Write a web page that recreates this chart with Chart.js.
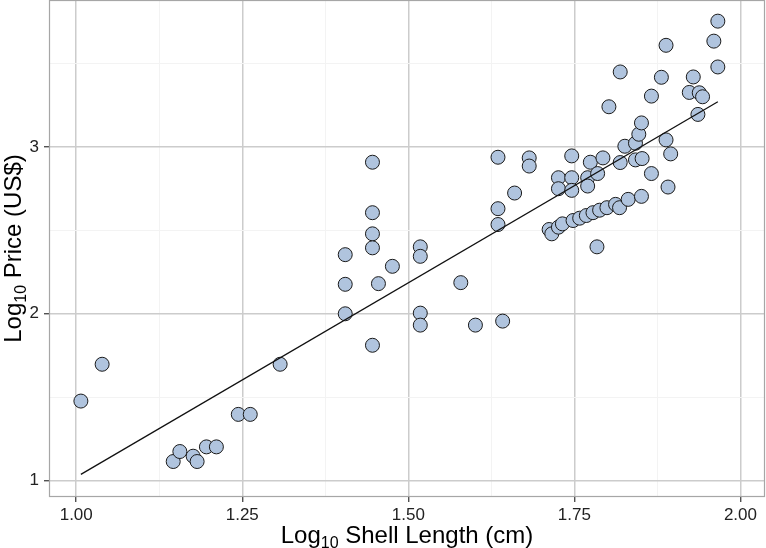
<!DOCTYPE html>
<html>
<head>
<meta charset="utf-8">
<script src="https://cdn.jsdelivr.net/npm/chart.js@4.4.1/dist/chart.umd.min.js"></script>
<style>
  html, body { margin: 0; padding: 0; background: #fff; }
  canvas { display: block; }
</style>
</head>
<body>
<canvas id="chart" width="766" height="548"></canvas>
<script>
// Datos (log10 longitud de concha, log10 precio)
const shellLength = [
  1.007, 1.039, 1.146, 1.156, 1.176, 1.182, 1.196, 1.211, 1.244, 1.262, 1.307,
  1.405, 1.405, 1.405, 1.446, 1.446, 1.446, 1.446, 1.446, 1.455, 1.476,
  1.518, 1.518, 1.518, 1.518, 1.579, 1.601, 1.642, 1.635, 1.635, 1.635, 1.660, 1.682, 1.682,
  1.726, 1.726, 1.746, 1.746, 1.746, 1.770, 1.770, 1.774, 1.785, 1.793, 1.802, 1.819, 1.819,
  1.826, 1.842, 1.842, 1.847, 1.851, 1.852, 1.866, 1.866, 1.881, 1.888, 1.888, 1.891, 1.895,
  1.923, 1.929, 1.936, 1.938, 1.943, 1.960, 1.966, 1.966, 1.784,
  1.712, 1.716, 1.726, 1.732, 1.748, 1.758, 1.768, 1.778, 1.788, 1.799, 1.812, 1.818, 1.831, 1.851
];
const price = [
  1.476, 1.697, 1.113, 1.173, 1.145, 1.113, 1.201, 1.201, 1.396, 1.396, 1.697,
  2.355, 2.177, 2.000, 2.910, 2.607, 2.480, 2.396, 1.811, 2.181, 2.285,
  2.402, 2.345, 2.004, 1.932, 2.187, 1.932, 1.956, 2.940, 2.631, 2.536, 2.725, 2.936, 2.887,
  2.817, 2.751, 2.948, 2.817, 2.741, 2.817, 2.767, 2.910, 2.842, 2.936, 3.243, 3.452, 2.908,
  3.006, 3.024, 2.924, 3.078, 3.146, 2.932, 3.307, 2.842, 3.420, 3.612, 3.044, 2.761, 2.960,
  3.329, 3.422, 3.197, 3.327, 3.303, 3.637, 3.757, 3.482, 2.402,
  2.506, 2.480, 2.520, 2.540, 2.560, 2.574, 2.590, 2.607, 2.622, 2.637, 2.657, 2.637, 2.687, 2.705
];

// Recta de regresión (extremos)
const fitX = [1.007, 1.966];
const fitY = [1.036, 3.273];

// Ejes
const xRange = [0.959, 2.037];
const yRange = [0.9, 3.884];
const xTitle = ["Log", "10", " Shell Length (cm)"];
const yTitle = ["Log", "10", " Price (US$)"];

const FONT = "'Liberation Sans', Arial, Helvetica, sans-serif";

const points = shellLength.map((x, i) => ({ x, y: price[i] }));
const fitLine = fitX.map((x, i) => ({ x, y: fitY[i] }));

function isMajor(v, per) {
  return Math.abs(v * per - Math.round(v * per)) < 1e-6;
}

// Título con subíndice
function drawSubTitle(ctx, parts, cx, cy, rotate) {
  ctx.save();
  ctx.translate(cx, cy);
  if (rotate) ctx.rotate(-Math.PI / 2);
  ctx.fillStyle = "#000";
  ctx.textBaseline = "alphabetic";
  ctx.textAlign = "left";
  const big = "24px " + FONT;
  const small = "16px " + FONT;
  ctx.font = big;
  const w0 = ctx.measureText(parts[0]).width;
  const w2 = ctx.measureText(parts[2]).width;
  ctx.font = small;
  const w1 = ctx.measureText(parts[1]).width;
  let x = -(w0 + w1 + w2) / 2;
  ctx.font = big;
  ctx.fillText(parts[0], x, 0);
  x += w0;
  ctx.font = small;
  ctx.fillText(parts[1], x, 5);
  x += w1;
  ctx.font = big;
  ctx.fillText(parts[2], x, 0);
  ctx.restore();
}

// Sin márgenes extra: el panel ocupa todo
function noPad(s) {
  s.paddingTop = 0;
  s.paddingBottom = 0;
  s.paddingLeft = 0;
  s.paddingRight = 0;
}

const panelPlugin = {
  id: "panel",
  afterDraw(chart) {
    const { ctx, chartArea: a } = chart;
    ctx.save();
    ctx.strokeStyle = "#a6a6a6";
    ctx.lineWidth = 1.2;
    ctx.strokeRect(a.left + 0.5, a.top + 0.5, a.right - a.left - 1, a.bottom - a.top - 1);
    ctx.restore();
    drawSubTitle(ctx, xTitle, (a.left + a.right) / 2, 543, false);
    drawSubTitle(ctx, yTitle, 21, (a.top + a.bottom) / 2, true);
  }
};

new Chart(document.getElementById("chart"), {
  type: "scatter",
  data: {
    datasets: [
      {
        type: "line",
        data: fitLine,
        borderColor: "#111",
        borderWidth: 1.3,
        pointRadius: 0,
        fill: false
      },
      {
        data: points,
        pointRadius: 7,
        pointBackgroundColor: "#b0c4de",
        pointBorderColor: "#1a1a1a",
        pointBorderWidth: 1
      }
    ]
  },
  options: {
    responsive: false,
    animation: false,
    devicePixelRatio: 1,
    layout: { autoPadding: false, padding: { top: 0, right: 1, left: 0, bottom: 0 } },
    plugins: { legend: { display: false }, tooltip: { enabled: false } },
    scales: {
      x: {
        type: "linear",
        min: xRange[0],
        max: xRange[1],
        afterFit: s => { s.height = 51; noPad(s); },
        border: { display: false },
        grid: {
          color: c => isMajor(c.tick.value, 4) ? "#cccccc" : "#f3f3f3",
          lineWidth: c => isMajor(c.tick.value, 4) ? 1.5 : 1,
          tickColor: c => isMajor(c.tick.value, 4) ? "#333" : "rgba(0,0,0,0)",
          tickLength: 5,
          tickWidth: 1.2
        },
        ticks: {
          stepSize: 0.125,
          includeBounds: false,
          autoSkip: false,
          maxRotation: 0,
          padding: 3,
          color: "#222",
          font: { family: FONT, size: 17 },
          callback: v => isMajor(v, 4) ? v.toFixed(2) : ""
        }
      },
      y: {
        type: "linear",
        min: yRange[0],
        max: yRange[1],
        afterFit: s => { s.width = 49; noPad(s); },
        border: { display: false },
        grid: {
          color: c => isMajor(c.tick.value, 1) ? "#cccccc" : "#f3f3f3",
          lineWidth: c => isMajor(c.tick.value, 1) ? 1.5 : 1,
          tickColor: c => isMajor(c.tick.value, 1) ? "#333" : "rgba(0,0,0,0)",
          tickLength: 5,
          tickWidth: 1.2
        },
        ticks: {
          stepSize: 0.5,
          includeBounds: false,
          autoSkip: false,
          padding: 5,
          color: "#222",
          font: { family: FONT, size: 17 },
          callback: v => isMajor(v, 1) ? String(v) : ""
        }
      }
    }
  },
  plugins: [panelPlugin]
});
</script>
</body>
</html>
